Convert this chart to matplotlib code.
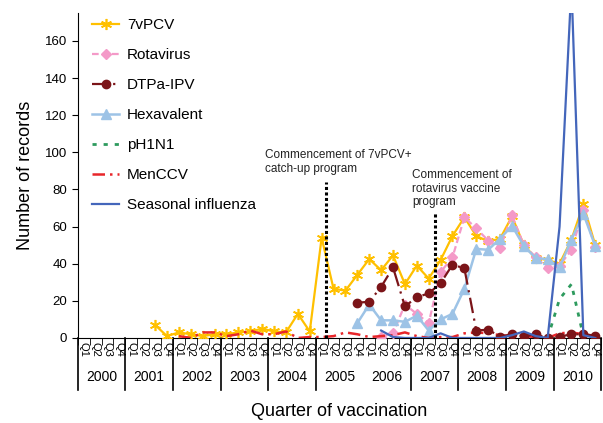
import numpy as np
import matplotlib
matplotlib.use("Agg")
import matplotlib.pyplot as plt
import matplotlib.transforms as mtransforms

plt.rcParams['font.family'] = ['Liberation Sans', 'DejaVu Sans']

# Quarters 2000 Q1 .. 2010 Q4
years = [str(y) for y in range(2000, 2011)]
quarters = ["Q1", "Q2", "Q3", "Q4"]
n_q = len(years) * 4

pcv7 = [None] * 6 + [7, 1, 3, 2, 1, 2, 2, 3, 3.5, 5, 3.5, 3, 13, 3.5, 54, 26.5, 25.5, 34,
                     42.5, 36.5, 44.5, 29, 39, 32, 42, 55, 65, 55, 52, 53.5, 65.5, 50, 43,
                     42, 40, 53, 72, 50]
rota = [None] * 25 + [0.7, 2.5, 18, 13, 8, 35.5, 43.5, 65, 59, 52.5, 48.5, 66, 50, 43.5,
                      37.5, 39, 47.5, 69, 49]
dtpa = [None] * 23 + [19, 19.5, 27.5, 38, 17, 22, 24, 29.5, 39.5, 37.5, 4, 4.5, 0.7, 2, 1,
                      2, 0, 0.7, 2, 2, 1.3]
hexa = [None] * 23 + [8, 18, 9.5, 9.5, 8.7, 12, 4, 10, 13, 26.5, 48, 47.5, 53.5, 60.5,
                      49.5, 43, 42.5, 38, 53, 67, 49.5]
ph1n1 = [None] * 39 + [0, 21, 29, 1, 0]
menccv = [None] * 8 + [1, 0, 3, 3, 1, 2, 4, 2, 2, 3.5, 0, 0.5, 0.5, 1, 3, 2, 0.5, 1, 1.5,
                       3, 1, 0, 0.5, 0.5, 2.5, 3, 2.5, 1.5, 1, 1, 0.5, 0, 2.5, 3, 2, 1]
flu = [None] * 25 + [4, 0.5, 0, 0, 0, 2.5, 0, 0, 0, 0, 0, 1.5, 3.5, 1, 0, 60, 190, 1.5, 0]

# program start markers (quarter index, line height, text, text x, text y)
events = [(20.35, 84, "Commencement of 7vPCV+\ncatch-up program", 15.2, 88),
          (29.5, 68, "Commencement of\nrotavirus vaccine\nprogram", 27.6, 70)]


def arr(v):
    return np.array([np.nan if a is None else a for a in v], dtype=float)


x = np.arange(n_q)

fig = plt.figure(figsize=(6.03, 4.23), dpi=100)
ax = fig.add_axes([0.129, 0.201, 0.868, 0.768])

ax.plot(x, arr(pcv7), color='#FFC000', lw=1.6, marker=(6, 2, 0), ms=8, mew=1.2,
        label='7vPCV', zorder=3)
ax.plot(x, arr(rota), color='#F49AC8', lw=1.6, ls=(0, (3, 1.5)), marker='D', ms=5,
        label='Rotavirus', zorder=4)
ax.plot(x, arr(dtpa), color='#7B1418', lw=1.6, ls=(0, (7, 2.5, 1, 2.5)), marker='o', ms=6,
        label='DTPa-IPV', zorder=5)
ax.plot(x, arr(hexa), color='#9DC3E6', lw=1.8, marker='^', ms=6.5,
        label='Hexavalent', zorder=4)
ax.plot(x, arr(ph1n1), color='#2E9B5E', lw=2, ls=(0, (1.5, 2.5)),
        label='pH1N1', zorder=4)
ax.plot(x, arr(menccv), color='#E8262A', lw=1.8, ls=(0, (5, 2, 1, 2)),
        label='MenCCV', zorder=4)
ax.plot(x, arr(flu), color='#4466BB', lw=1.6, label='Seasonal influenza', zorder=6)

for xe, top, txt, tx, ty in events:
    ax.plot([xe, xe], [0, top], color='black', lw=2.2, ls=(0, (1, 0.8)), zorder=7)
    ax.text(tx, ty, txt, fontsize=8.5, color='#222222', va='bottom', ha='left',
            linespacing=1.15)

ax.set_xlim(-0.5, n_q - 0.5)
ax.set_ylim(0, 175)
ax.set_yticks(range(0, 161, 20))
ax.tick_params(axis='y', labelsize=9.5, length=4, direction='out')
ax.spines['top'].set_visible(False)
ax.spines['right'].set_visible(False)

# quarter labels between boundary ticks
ax.set_xticks(x)
ax.set_xticklabels(quarters * len(years), rotation=270, fontsize=8)
ax.tick_params(axis='x', which='major', length=0, pad=3)
ax.set_xticks(np.arange(-0.5, n_q, 1), minor=True)
ax.tick_params(axis='x', which='minor', length=5, direction='out')

# year separators and labels
trans = mtransforms.blended_transform_factory(ax.transData, ax.transAxes)
for k in range(len(years) + 1):
    if k == 6:
        continue
    xb = 4 * k - 0.5
    ax.plot([xb, xb], [0, -0.16], color='black', lw=1.2, transform=trans, clip_on=False)
for k, yr in enumerate(years):
    ax.text(4 * k + 1.5, -0.12, yr, transform=trans, ha='center', va='center', fontsize=10)

ax.set_ylabel('Number of records', fontsize=13, labelpad=8)
ax.set_xlabel('Quarter of vaccination', fontsize=13, labelpad=33)

ax.legend(loc='upper left', bbox_to_anchor=(0.027, 0.985), frameon=False, fontsize=11,
          handlelength=1.8, handletextpad=0.5, labelspacing=1.05, borderpad=0,
          borderaxespad=0)

fig.savefig('out.png', dpi=100)
